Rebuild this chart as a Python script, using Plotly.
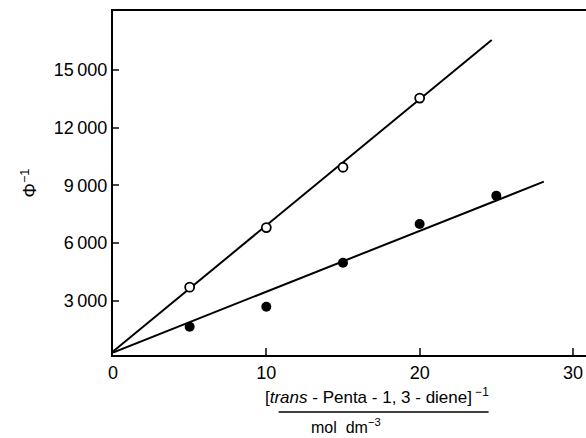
import plotly.graph_objects as go

# data
conc_inv = [5, 10, 15, 20, 25]
phi_inv_open = [3700, 6800, 9940, 13540]
phi_inv_filled = [1640, 2680, 4970, 6990, 8460]
fit_open_x = [0, 24.7]
fit_open_y = [350, 16560]
fit_filled_x = [0, 28.1]
fit_filled_y = [300, 9190]

y_tickvals = [3000, 6000, 9000, 12000, 15000]
y_ticktext = ["3\u2009000", "6\u2009000", "9\u2009000", "12\u2009000", "15\u2009000"]
x_tickvals = [0, 10, 20, 30]

FONT = "Liberation Sans, Arial, sans-serif"

fig = go.Figure()
fig.add_trace(go.Scatter(x=fit_open_x, y=fit_open_y, mode="lines",
                         line=dict(color="black", width=2), showlegend=False))
fig.add_trace(go.Scatter(x=fit_filled_x, y=fit_filled_y, mode="lines",
                         line=dict(color="black", width=2), showlegend=False))
fig.add_trace(go.Scatter(x=conc_inv[:4], y=phi_inv_open, mode="markers",
                         marker=dict(symbol="circle", size=9, color="white",
                                     line=dict(color="black", width=1.8)),
                         showlegend=False))
fig.add_trace(go.Scatter(x=conc_inv, y=phi_inv_filled, mode="markers",
                         marker=dict(symbol="circle", size=10, color="black"),
                         showlegend=False))

plot_h = 438 - 11 - 83
def py(px):
    return (438 - 83 - px) / plot_h

fig.update_layout(
    width=586, height=438,
    margin=dict(l=113, r=0, t=11, b=83),
    paper_bgcolor="white", plot_bgcolor="white",
    font=dict(family=FONT, color="black", size=17),
    xaxis=dict(range=[0, 30.85], tickvals=x_tickvals, ticks="inside", ticklen=7,
               tickwidth=1.5, showline=True, linewidth=2, linecolor="black",
               mirror=True, showgrid=False, zeroline=False,
               tickfont=dict(size=18)),
    yaxis=dict(range=[170, 18070], tickvals=y_tickvals, ticktext=y_ticktext,
               ticks="inside", ticklen=6, tickwidth=1.5, showline=True,
               linewidth=2, linecolor="black", mirror=False, showgrid=False,
               zeroline=False, tickfont=dict(size=18),
               title=dict(text="\u03a6<sup>\u22121</sup>", font=dict(size=18), standoff=12)),
)

fig.add_annotation(x=17.2, xref="x", y=py(409), yref="paper", yanchor="bottom",
                   text="[<i>trans</i> - Penta - 1, 3 - diene]<sup> \u22121</sup>",
                   showarrow=False, font=dict(size=17))
fig.add_annotation(x=15.2, xref="x", y=py(414), yref="paper", yanchor="top",
                   text="mol  dm<sup>\u22123</sup>", showarrow=False, font=dict(size=16))
fig.add_shape(type="line", xref="x", yref="paper", x0=10.8, x1=24.5,
              y0=py(412), y1=py(412), line=dict(color="black", width=1.5))

fig.write_html("out.html")
